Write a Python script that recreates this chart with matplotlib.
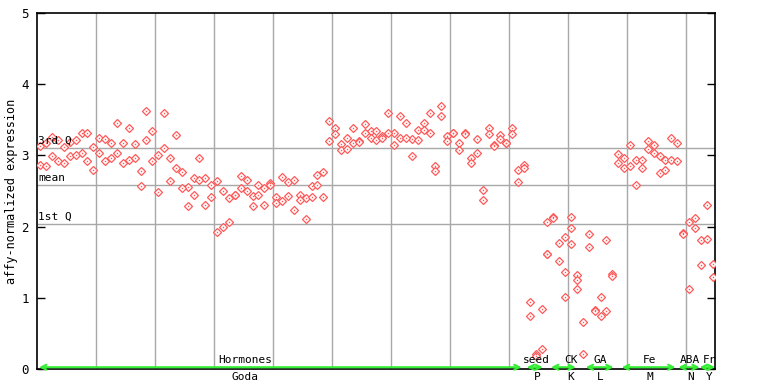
import matplotlib
matplotlib.use("Agg")
import matplotlib.pyplot as plt

# --- Data ---
# Goda / Hormones: two replicates per sample position (k = 0..82)
goda_rep1 = [3.13, 3.17, 3.26, 3.21, 3.12, 3.19, 3.21, 3.31, 3.31, 3.12,
             3.24, 3.23, 3.18, 3.46, 3.18, 3.38, 3.16, 2.78, 3.62, 3.34,
             3.00, 3.59, 2.96, 3.29, 2.76, 2.55, 2.68, 2.96, 2.68, 2.58,
             2.64, 2.50, 2.40, 2.44, 2.71, 2.65, 2.43, 2.58, 2.54, 2.61,
             2.41, 2.69, 2.62, 2.66, 2.44, 2.40, 2.57, 2.73, 2.76, 3.49,
             3.38, 3.16, 3.24, 3.39, 3.20, 3.44, 3.34, 3.34, 3.27, 3.59,
             3.32, 3.55, 3.45, 3.23, 3.35, 3.46, 3.59, 2.85, 3.70, 3.27,
             3.32, 3.17, 3.32, 2.96, 3.23, 2.52, 3.39, 3.14, 3.28, 3.18,
             3.38, 2.80, 2.87]
goda_rep2 = [2.87, 2.85, 2.99, 2.92, 2.90, 2.99, 3.01, 3.04, 2.92, 2.80,
             3.04, 2.92, 2.97, 3.03, 2.90, 2.93, 2.96, 2.57, 3.21, 2.92,
             2.48, 3.11, 2.64, 2.83, 2.54, 2.29, 2.44, 2.65, 2.30, 2.41,
             1.93, 1.99, 2.06, 2.44, 2.54, 2.50, 2.29, 2.44, 2.30, 2.58,
             2.33, 2.36, 2.43, 2.23, 2.38, 2.10, 2.42, 2.58, 2.42, 3.20,
             3.30, 3.07, 3.09, 3.17, 3.19, 3.32, 3.25, 3.21, 3.24, 3.32,
             3.14, 3.25, 3.24, 2.99, 3.21, 3.35, 3.32, 2.78, 3.55, 3.20,
             3.31, 3.07, 3.30, 2.90, 3.03, 2.38, 3.30, 3.13, 3.23, 3.17,
             3.30, 2.62, 2.82]

seed_idx = [83, 83, 84, 84, 85, 85]
seed_val = [0.94, 0.74, 0.21, 0.18, 0.84, 0.28]

ck_idx = [86, 86, 86, 87, 87, 88, 88, 89, 89, 89, 90, 90, 90, 91, 91, 91]
ck_val = [2.06, 1.62, 1.61, 2.13, 2.12, 1.77, 1.51, 1.85, 1.36, 1.01,
          2.13, 1.98, 1.75, 1.32, 1.25, 1.12]

ga_idx = [92, 92, 93, 93, 94, 94, 95, 95, 96, 96, 97, 97]
ga_val = [0.66, 0.21, 1.89, 1.71, 0.83, 0.82, 1.01, 0.75, 1.81, 0.82, 1.33, 1.30]

fe_idx = [98, 98, 99, 99, 100, 100, 101, 101, 102, 102, 103, 103,
          104, 104, 105, 105, 106, 106, 107, 107, 108, 108]
fe_val = [3.02, 2.89, 2.96, 2.82, 3.14, 2.85, 2.93, 2.59, 2.93, 2.82, 3.20, 3.09,
          3.14, 3.04, 2.99, 2.75, 2.93, 2.79, 3.24, 2.93, 3.17, 2.92]

aba_idx = [109, 109, 110, 110, 111, 111]
aba_val = [1.91, 1.89, 2.06, 1.13, 2.12, 1.98]

fr_idx = [112, 112, 113, 113, 114, 114]
fr_val = [1.81, 1.46, 2.30, 1.82, 1.48, 1.29]

# summary lines
q3, mean_val, q1 = 3.10, 2.58, 2.04

# group labels: (upper label, lower label, label x, arrow start, arrow end)
groups = [("Hormones", "Goda", 34.7, -0.2, 81.6),
          ("seed", "P", 84.2, 82.5, 85.2),
          ("CK", "K", 90.0, 86.6, 90.8),
          ("GA", "L", 95.0, 92.5, 97.2),
          ("Fe", "M", 103.3, 98.6, 107.7),
          ("ABA", "N", 110.2, 108.2, 111.8),
          ("Fr", "Y", 113.4, 111.8, 114.4)]

# --- Assemble points ---
xs = list(range(len(goda_rep1))) + list(range(len(goda_rep2)))
ys = goda_rep1 + goda_rep2
for gi, gv in [(seed_idx, seed_val), (ck_idx, ck_val), (ga_idx, ga_val),
               (fe_idx, fe_val), (aba_idx, aba_val), (fr_idx, fr_val)]:
    xs += gi
    ys += gv

# --- Plot ---
mono = "DejaVu Sans Mono"
red = "#ff5a5a"
fig = plt.figure(figsize=(7.68, 3.84), dpi=100)
ax = fig.add_axes([37.3 / 768, 15 / 384, (715 - 37.3) / 768, (369 - 13) / 384])
ax.set_xlim(-0.5, 114.4)
ax.set_ylim(0, 5)

grey = "#a8a8a8"
for gx in range(10, 111, 10):
    ax.axvline(gx - 0.5, color=grey, lw=1, zorder=1)
for hy in (q3, mean_val, q1):
    ax.axhline(hy, color=grey, lw=1, zorder=1)

ax.plot(xs, ys, linestyle="none", marker="D", ms=4.2, mfc="white",
        mec=red, mew=0.9, zorder=3)
ax.plot(xs, ys, linestyle="none", marker="s", ms=1.0, mfc=red, mec=red,
        mew=0, zorder=4)

ax.text(-0.4, q3 + 0.03, "3rd Q", family=mono, fontsize=8, va="bottom", ha="left")
ax.text(-0.4, mean_val + 0.03, "mean", family=mono, fontsize=8, va="bottom", ha="left")
ax.text(-0.4, q1 + 0.03, "1st Q", family=mono, fontsize=8, va="bottom", ha="left")

green = "#33ee33"
for top, bottom, lx, x0, x1 in groups:
    ax.annotate("", xy=(x1, 0.025), xytext=(x0, 0.025),
                arrowprops=dict(arrowstyle="<->", color=green, lw=1.5,
                                mutation_scale=9, shrinkA=0, shrinkB=0),
                zorder=5, annotation_clip=False)
    ax.text(lx, 0.05, top, family=mono, fontsize=8, ha="center", va="bottom")
    ax.text(lx, -0.04, bottom, family=mono, fontsize=8, ha="center", va="top")

ax.set_xticks([])
ax.set_yticks([0, 1, 2, 3, 4, 5])
ax.tick_params(axis="y", direction="in", length=6, width=1, right=True,
               left=True, pad=6, labelsize=9)
for lbl in ax.get_yticklabels():
    lbl.set_family(mono)
for sp in ax.spines.values():
    sp.set_color("black")
    sp.set_linewidth(1.2)

fig.text(12 / 768, 1 - 191 / 384, "affy-normalized expression", family=mono,
         fontsize=8.6, rotation=90, ha="center", va="center")

fig.savefig("out.png", dpi=100, facecolor="white")
